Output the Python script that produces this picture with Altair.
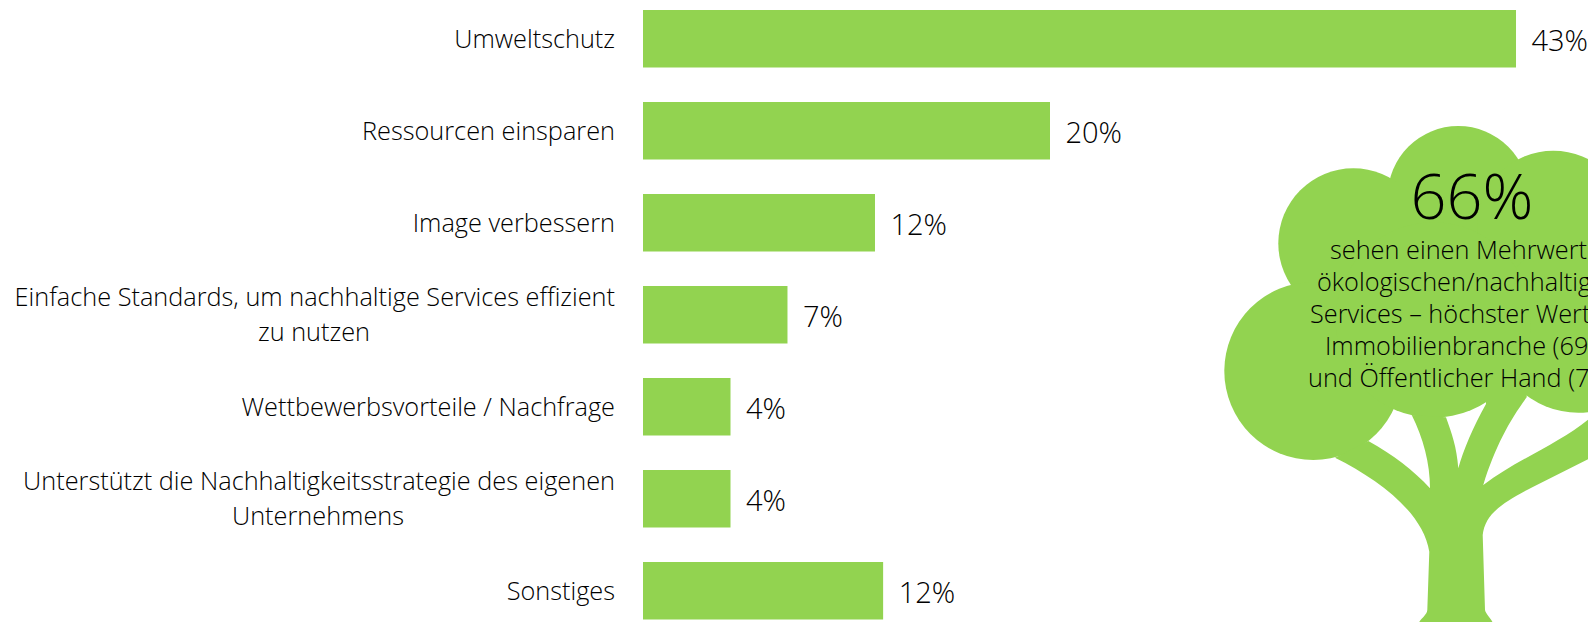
import altair as alt
import pandas as pd

FONT = "Open Sans"
GREEN = "#92D350"
INK = "#000000"

first_lines = ["Umweltschutz", "Ressourcen einsparen", "Image verbessern",
               "Einfache Standards, um nachhaltige Services effizient",
               "Wettbewerbsvorteile / Nachfrage",
               "Unterstützt die Nachhaltigkeitsstrategie des eigenen", "Sonstiges"]
second_lines = ["", "", "", "zu nutzen", "", "Unternehmens", ""]
values = [42.9, 20.0, 11.4, 7.1, 4.3, 4.3, 11.8]
value_labels = ["43%", "20%", "12%", "7%", "4%", "4%", "12%"]
tree_lines = ["sehen einen Mehrwert in", "ökologischen/nachhaltigen",
              "Services – höchster Wert in der", "Immobilienbranche (69%)",
              "und Öffentlicher Hand (73%)"]
tree_line_starts = [1330, 1317, 1310, 1325, 1308]

W, H, LEFT = 945, 614, 635
PX_PER_PCT = 20.35

# Tree crown lobes, measured on the reference (x, y, radius, page pixels)
crown_x = [1458.3, 1353.3, 1313.3, 1553.3, 1578.3, 1433.3]
crown_y = [196.7, 243.3, 371.0, 226.7, 326.7, 320.0]
crown_r = [70.7, 75.0, 89.0, 76.0, 86.0, 97.7]


def pt(zx, zy):
    return f"{1200 + zx / 3 - (LEFT + 8):.1f},{110 + zy / 3 - 8:.1f}"


trunk_path = (
    f"M{pt(405,1043)}C{pt(540,1110)} {pt(670,1210)} {pt(688,1325)}"
    f"L{pt(682,1500)}C{pt(680,1520)} {pt(650,1530)} {pt(650,1560)}"
    f"L{pt(650,1575)}L{pt(882,1575)}L{pt(882,1550)}C{pt(880,1530)} {pt(858,1515)} {pt(855,1500)}"
    f"L{pt(848,1275)}C{pt(855,1220)} {pt(890,1185)} {pt(1000,1130)}"
    f"L{pt(1200,1030)}L{pt(1200,895)}C{pt(1120,985)} {pt(960,1040)} {pt(850,1125)}"
    f"C{pt(885,1010)} {pt(930,930)} {pt(980,862)}L{pt(980,800)}L{pt(858,800)}L{pt(858,882)}"
    f"C{pt(820,950)} {pt(790,1020)} {pt(775,1075)}C{pt(770,1010)} {pt(755,970)} {pt(738,922)}"
    f"L{pt(635,915)}C{pt(670,985)} {pt(690,1060)} {pt(690,1135)}"
    f"C{pt(640,1080)} {pt(580,1035)} {pt(505,993)}Z"
)

df = pd.DataFrame({"cat": first_lines, "second": second_lines,
                   "value": values, "label": value_labels})
crown = pd.DataFrame({
    "x": [v - (LEFT + 8) for v in crown_x],
    "y": [v - 8 for v in crown_y],
    "size": [4 * r * r for r in crown_r],
})

x_scale = alt.Scale(domain=[0, W / PX_PER_PCT], range=[0, W], nice=False, zero=False)
step = 92
inner = 0.375
rest = H - step * (7 - inner)
y_scale = alt.Scale(domain=first_lines, paddingInner=inner,
                    paddingOuter=rest / 2 / step, align=2 / rest)
X = alt.X("value:Q", scale=x_scale, axis=None)
Y = alt.Y("cat:N", scale=y_scale, axis=None, sort=first_lines)
X0 = alt.X("zero:Q", scale=x_scale, axis=None)
LABEL = dict(font=FONT, fontWeight=300, fontSize=25.3, color=INK, baseline="middle")

bars = alt.Chart(df).mark_bar(color=GREEN, cornerRadius=0).encode(
    x=alt.X("zero:Q", scale=x_scale, axis=None), x2="value:Q", y=Y
).transform_calculate(zero="0")

vals = alt.Chart(df).mark_text(font=FONT, fontWeight=300, fontSize=29, color=INK, align="left",
                               baseline="middle", dx=15.5, dy=3).encode(x=X, y=Y, text="label:N")

single = alt.Chart(df).transform_filter("datum.second == ''").transform_calculate(zero="0").mark_text(
    align="right", dx=-28, dy=1.5, **LABEL
).encode(x=X0, y=Y, text="cat:N")
double = alt.Chart(df).transform_filter("datum.second != ''").transform_calculate(zero="0").mark_text(
    align="right", dx=-28, dy=-17, **LABEL
).encode(x=X0, y=Y, text="cat:N")
sec1 = alt.Chart(df).transform_filter("datum.second == 'zu nutzen'").transform_calculate(zero="0").mark_text(
    align="center", dx=-329, dy=18, **LABEL
).encode(x=X0, y=Y, text="second:N")
sec2 = alt.Chart(df).transform_filter("datum.second == 'Unternehmens'").transform_calculate(zero="0").mark_text(
    align="center", dx=-325, dy=18, **LABEL
).encode(x=X0, y=Y, text="second:N")

main = alt.layer(bars, vals, single, double, sec1, sec2)

px_x = alt.Scale(domain=[0, W], range=[0, W], zero=False, nice=False)
px_y = alt.Scale(domain=[0, H], range=[0, H], zero=False, nice=False)
lobes = alt.Chart(crown).mark_circle(color=GREEN, opacity=1, clip=True).encode(
    x=alt.X("x:Q", scale=px_x, axis=None),
    y=alt.Y("y:Q", scale=px_y, axis=None),
    size=alt.Size("size:Q", scale=None, legend=None),
)
trunk = alt.Chart(pd.DataFrame({"a": [0]})).mark_point(
    shape=trunk_path, size=4, filled=True, fill=GREEN, opacity=1, strokeWidth=0, clip=True
).encode(x=alt.value(0), y=alt.value(0))

big = alt.Chart(pd.DataFrame({"t": ["66%"]})).mark_text(
    font=FONT, fontWeight=300, fontSize=63, color="#000000", align="center", baseline="middle", clip=True
).encode(x=alt.value(829), y=alt.value(192), text="t:N")

notes = [
    alt.Chart(pd.DataFrame({"t": [t]})).mark_text(
        align="left", clip=True, **LABEL
    ).encode(x=alt.value(s - LEFT - 8), y=alt.value(243 + i * 32), text="t:N")
    for i, (t, s) in enumerate(zip(tree_lines, tree_line_starts))
]

chart = alt.layer(lobes, trunk, main, big, *notes).resolve_scale(
    x="independent", y="independent", size="independent"
).properties(
    width=W, height=H, autosize="none",
    padding={"left": LEFT, "top": 0, "right": 0, "bottom": 0},
    background="white",
).configure_view(stroke=None)

chart.save("out.html", embed_options={"renderer": "svg", "actions": False})
